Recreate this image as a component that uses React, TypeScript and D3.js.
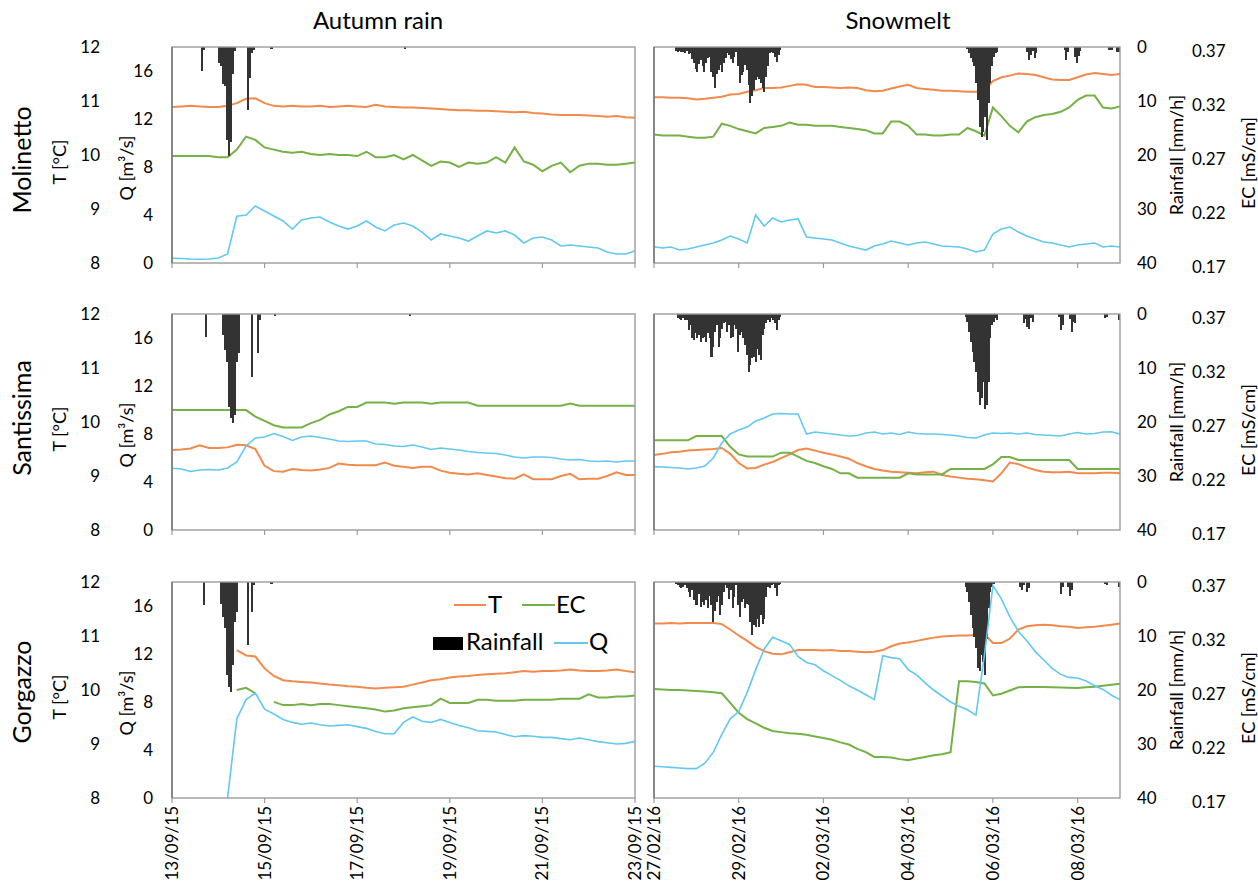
import React from "react";
import * as d3 from "d3";

// samples every 0.2 days from the start of each window
const STEP = 0.2;
const FONT = "Lato, 'Open Sans', sans-serif";

const autumnDates = ["13/09/15", "15/09/15", "17/09/15", "19/09/15", "21/09/15", "23/09/15"];
const snowDates = ["27/02/16", "29/02/16", "02/03/16", "04/03/16", "06/03/16", "08/03/16"];
const stations = ["Molinetto", "Santissima", "Gorgazzo"];

const tTicks = [8, 9, 10, 11, 12];
const qTicks = [0, 4, 8, 12, 16];
const rainTicks = [0, 10, 20, 30, 40];
const ecTicks = [0.17, 0.22, 0.27, 0.32, 0.37];

// ---- Molinetto ----
const molAutT = [10.89, 10.9, 10.91, 10.9, 10.89, 10.89, 10.91, 10.96, 11.04, 11.05, 10.96, 10.91, 10.9, 10.91, 10.9, 10.9, 10.91, 10.89, 10.9, 10.91, 10.9, 10.89, 10.93, 10.9, 10.89, 10.88, 10.88, 10.87, 10.86, 10.85, 10.84, 10.83, 10.83, 10.82, 10.82, 10.81, 10.8, 10.79, 10.8, 10.78, 10.77, 10.75, 10.74, 10.74, 10.74, 10.73, 10.72, 10.71, 10.72, 10.7, 10.69];
const molAutEC = [0.269, 0.269, 0.269, 0.269, 0.269, 0.268, 0.268, 0.275, 0.287, 0.284, 0.277, 0.275, 0.273, 0.272, 0.273, 0.271, 0.27, 0.271, 0.27, 0.27, 0.269, 0.273, 0.268, 0.268, 0.27, 0.266, 0.27, 0.265, 0.26, 0.264, 0.263, 0.259, 0.263, 0.262, 0.263, 0.268, 0.263, 0.277, 0.264, 0.261, 0.255, 0.26, 0.263, 0.254, 0.26, 0.262, 0.262, 0.261, 0.261, 0.262, 0.263];
const molAutQ = [0.39, 0.38, 0.33, 0.31, 0.33, 0.42, 0.75, 3.9, 4.0, 4.75, 4.33, 3.92, 3.5, 2.83, 3.58, 3.75, 3.83, 3.42, 3.08, 2.83, 3.08, 3.5, 3.0, 2.67, 3.17, 3.33, 3.08, 2.58, 1.92, 2.42, 2.25, 2.08, 1.83, 2.25, 2.67, 2.5, 2.67, 2.33, 1.67, 2.08, 2.17, 1.92, 1.42, 1.5, 1.42, 1.33, 1.25, 0.92, 0.75, 0.75, 1.0];
// rain bursts: [first hour, hourly mm/h]
const molAutRain = [[15, [4.4, 0.5]], [24, [3.0, 3.6, 6.8, 7.2, 17.2, 20.2, 17.5, 5.0, 0.8]], [39, [11.7, 5.8, 1.1, 0.6]], [51, [0.4]], [120, [0.4]]];

const molSnowT = [11.07, 11.07, 11.06, 11.06, 11.05, 11.03, 11.04, 11.06, 11.08, 11.12, 11.13, 11.17, 11.2, 11.24, 11.24, 11.25, 11.28, 11.31, 11.3, 11.26, 11.26, 11.25, 11.24, 11.25, 11.24, 11.2, 11.18, 11.19, 11.23, 11.27, 11.3, 11.24, 11.22, 11.21, 11.19, 11.19, 11.18, 11.17, 11.17, 11.19, 11.37, 11.44, 11.47, 11.51, 11.5, 11.48, 11.44, 11.4, 11.39, 11.39, 11.44, 11.49, 11.52, 11.5, 11.48, 11.5];
const molSnowEC = [0.289, 0.288, 0.288, 0.288, 0.287, 0.286, 0.286, 0.287, 0.299, 0.297, 0.294, 0.292, 0.29, 0.295, 0.296, 0.297, 0.3, 0.298, 0.298, 0.297, 0.297, 0.297, 0.296, 0.295, 0.294, 0.293, 0.29, 0.29, 0.301, 0.301, 0.297, 0.289, 0.289, 0.288, 0.288, 0.289, 0.289, 0.295, 0.292, 0.288, 0.314, 0.306, 0.297, 0.291, 0.301, 0.305, 0.307, 0.308, 0.31, 0.314, 0.321, 0.325, 0.325, 0.314, 0.313, 0.315];
const molSnowQ = [1.36, 1.25, 1.33, 1.08, 1.17, 1.33, 1.5, 1.67, 1.92, 2.25, 2.0, 1.67, 4.0, 3.08, 3.75, 3.42, 3.58, 3.67, 2.17, 2.08, 2.0, 1.92, 1.67, 1.42, 1.25, 1.08, 1.42, 1.58, 1.83, 1.67, 1.5, 1.67, 1.75, 1.58, 1.42, 1.38, 1.33, 1.17, 0.92, 1.08, 2.42, 2.83, 3.0, 2.58, 2.25, 2.0, 1.75, 1.67, 1.5, 1.33, 1.5, 1.58, 1.67, 1.33, 1.42, 1.33];
const molSnowRain = [
  [12, [0.8, 0.9, 0.7, 1.0, 0.9, 1.1, 0.8, 1.3, 1.2, 2.2, 3.0, 4.1, 4.6, 3.2, 2.4, 3.6, 4.6, 3.0, 2.1, 1.8, 4.6, 5.5, 7.6, 5.0, 4.3, 3.4, 4.6, 3.0, 2.0, 1.2, 1.5, 2.2, 3.0, 1.8, 1.0, 3.5, 6.7, 5.2, 4.6, 3.3, 4.3, 7.0, 10.4, 9.0, 8.0, 6.2, 5.5, 6.0, 6.7, 7.5, 8.3, 5.5, 3.6, 1.2, 1.0, 1.2, 1.8, 2.7, 1.5, 0.6]],
  [177, [0.3, 1.2, 2.1, 2.8, 3.6, 6.7, 9.8, 14.8, 16.6, 15.7, 12.9, 17.2, 10.4, 6.7, 3.6, 1.8, 1.2, 0.9]],
  [211, [1.0, 2.4, 1.5, 0.8, 2.0, 1.2]],
  [232, [0.6, 2.4, 1.0]],
  [238, [1.8, 3.0, 1.6, 0.8]],
  [257, [0.6, 0.6, 0.5]],
  [262, [1.0, 1.0]],
];

// ---- Santissima ----
const santAutT = [9.48, 9.49, 9.51, 9.57, 9.52, 9.52, 9.53, 9.58, 9.57, 9.5, 9.19, 9.09, 9.08, 9.13, 9.11, 9.1, 9.12, 9.15, 9.23, 9.21, 9.2, 9.2, 9.2, 9.25, 9.19, 9.17, 9.15, 9.17, 9.17, 9.1, 9.06, 9.04, 9.03, 9.05, 9.02, 8.99, 8.96, 8.95, 9.03, 8.94, 8.94, 8.94, 9.0, 9.04, 8.94, 8.95, 8.95, 9.0, 9.07, 9.02, 9.02];
const santAutEC = [0.281, 0.281, 0.281, 0.281, 0.281, 0.281, 0.281, 0.281, 0.281, 0.275, 0.271, 0.267, 0.265, 0.265, 0.265, 0.269, 0.272, 0.277, 0.28, 0.284, 0.284, 0.288, 0.288, 0.288, 0.287, 0.288, 0.288, 0.288, 0.287, 0.288, 0.288, 0.288, 0.288, 0.285, 0.285, 0.285, 0.285, 0.285, 0.285, 0.285, 0.285, 0.285, 0.285, 0.287, 0.285, 0.285, 0.285, 0.285, 0.285, 0.285, 0.285];
const santAutQ = [5.14, 5.08, 4.88, 5.0, 5.04, 5.0, 5.17, 5.67, 7.0, 7.67, 7.75, 8.04, 7.79, 7.46, 7.75, 7.83, 7.71, 7.58, 7.42, 7.38, 7.42, 7.42, 7.17, 7.13, 7.0, 6.96, 7.08, 6.92, 6.71, 6.83, 6.75, 6.67, 6.54, 6.46, 6.42, 6.38, 6.25, 6.08, 6.0, 6.08, 6.08, 6.04, 5.92, 5.83, 5.88, 5.75, 5.71, 5.75, 5.67, 5.75, 5.75];
const santAutRain = [[17, [4.3]], [26, [3.9, 6.7, 8.8, 17.2, 19.3, 20.2, 18.7, 8.9, 7.2]], [41, [11.6]], [44, [7.3, 1.1]], [53, [0.3]], [123, [0.4]]];

const santSnowT = [9.39, 9.41, 9.44, 9.45, 9.47, 9.48, 9.49, 9.5, 9.52, 9.41, 9.24, 9.14, 9.15, 9.21, 9.26, 9.33, 9.4, 9.48, 9.51, 9.47, 9.43, 9.4, 9.36, 9.32, 9.24, 9.18, 9.13, 9.1, 9.08, 9.07, 9.06, 9.05, 9.07, 9.08, 9.02, 8.99, 8.97, 8.95, 8.94, 8.92, 8.9, 9.05, 9.25, 9.22, 9.16, 9.11, 9.08, 9.07, 9.07, 9.08, 9.05, 9.05, 9.05, 9.06, 9.06, 9.05];
const santSnowEC = [0.253, 0.253, 0.253, 0.253, 0.253, 0.257, 0.257, 0.257, 0.257, 0.247, 0.24, 0.238, 0.238, 0.238, 0.238, 0.2416, 0.2416, 0.238, 0.234, 0.232, 0.229, 0.2265, 0.2225, 0.2225, 0.2184, 0.2184, 0.2184, 0.2184, 0.2184, 0.2184, 0.2225, 0.2215, 0.2215, 0.2215, 0.2215, 0.2265, 0.2265, 0.2265, 0.2265, 0.2265, 0.2308, 0.2376, 0.2376, 0.2348, 0.2348, 0.2348, 0.2348, 0.2348, 0.2348, 0.2348, 0.2265, 0.2265, 0.2265, 0.2265, 0.2265, 0.2265];
const santSnowQ = [5.28, 5.25, 5.21, 5.17, 5.08, 5.17, 5.33, 6.0, 7.25, 8.0, 8.33, 8.58, 9.08, 9.33, 9.67, 9.71, 9.67, 9.67, 8.0, 8.17, 8.08, 8.0, 7.92, 7.83, 7.88, 8.08, 8.17, 8.0, 8.08, 7.96, 8.17, 8.04, 8.0, 8.0, 7.96, 7.92, 7.83, 7.71, 7.67, 7.92, 8.08, 8.04, 8.08, 8.0, 8.08, 7.96, 7.92, 7.88, 7.83, 8.0, 8.13, 8.0, 8.04, 8.17, 8.19, 8.0];
const santSnowRain = [
  [13, [0.8, 0.9, 1.1, 0.8, 1.1, 1.1, 3.0, 2.0, 4.5, 4.8, 3.6, 4.5, 3.9, 5.1, 4.5, 4.2, 5.1, 3.6, 4.5, 7.9, 6.1, 3.3, 2.0, 6.1, 4.5, 2.7, 1.7, 1.4, 3.3, 2.0, 4.5, 4.2, 2.0, 2.7, 7.0, 3.9, 3.3, 4.5, 5.7, 7.6, 10.7, 9.4, 8.2, 7.9, 8.8, 6.4, 7.6, 8.5, 3.9, 2.7, 1.7, 1.1, 1.4, 0.8, 1.1, 1.7, 3.0, 1.1, 0.6]],
  [176, [0.5, 1.4, 3.3, 5.1, 7.0, 8.8, 10.7, 14.4, 16.9, 15.6, 12.5, 17.5, 16.9, 12.5, 4.5, 2.0, 1.4, 0.8, 1.1]],
  [209, [1.7, 1.0, 2.4, 2.7, 0.8, 1.4]],
  [229, [0.6, 3.0, 2.0]],
  [235, [1.0, 3.3, 1.4, 1.7]],
  [255, [0.8, 0.6]],
  [263, [1.1]],
];

// ---- Gorgazzo (null = no record) ----
const gorAutT = [null, null, null, null, null, null, null, 10.74, 10.64, 10.62, 10.4, 10.26, 10.18, 10.16, 10.15, 10.14, 10.12, 10.1, 10.09, 10.07, 10.06, 10.04, 10.03, 10.04, 10.05, 10.06, 10.1, 10.14, 10.18, 10.2, 10.23, 10.25, 10.26, 10.28, 10.29, 10.3, 10.31, 10.33, 10.35, 10.34, 10.35, 10.35, 10.36, 10.38, 10.36, 10.35, 10.35, 10.36, 10.38, 10.35, 10.33];
const gorAutEC = [null, null, null, null, null, null, null, 0.27, 0.272, 0.267, null, 0.259, 0.256, 0.256, 0.257, 0.256, 0.257, 0.257, 0.256, 0.255, 0.254, 0.253, 0.252, 0.25, 0.251, 0.253, 0.254, 0.255, 0.256, 0.262, 0.258, 0.258, 0.258, 0.261, 0.261, 0.26, 0.26, 0.26, 0.261, 0.261, 0.261, 0.261, 0.262, 0.262, 0.262, 0.266, 0.263, 0.263, 0.264, 0.264, 0.265];
const gorAutQ = [null, null, null, null, null, null, 0.0, 6.6, 8.2, 8.75, 7.4, 7.0, 6.55, 6.3, 6.15, 6.25, 6.1, 6.0, 6.05, 6.1, 5.95, 5.8, 5.55, 5.35, 5.35, 6.3, 6.75, 6.4, 6.3, 6.55, 6.3, 6.05, 5.85, 5.6, 5.55, 5.5, 5.3, 5.1, 5.2, 5.15, 5.05, 5.05, 4.95, 4.85, 5.0, 4.85, 4.7, 4.6, 4.5, 4.55, 4.72];
const gorAutRain = [[16, [4.3]], [25, [4.0, 6.5, 8.6, 17.3, 19.5, 20.4, 15.4, 7.4, 5.6]], [39, [11.7]], [41, [5.6, 0.6]], [51, [0.3]]];

const gorSnowT = [11.23, 11.23, 11.24, 11.23, 11.24, 11.24, 11.24, 11.24, 11.22, 11.12, 11.01, 10.91, 10.8, 10.72, 10.67, 10.66, 10.7, 10.74, 10.74, 10.74, 10.73, 10.74, 10.72, 10.72, 10.71, 10.7, 10.71, 10.74, 10.81, 10.86, 10.88, 10.91, 10.94, 10.97, 10.99, 11.0, 11.01, 11.01, 11.02, 11.03, 10.87, 10.87, 10.95, 11.12, 11.18, 11.2, 11.21, 11.2, 11.18, 11.17, 11.15, 11.16, 11.17, 11.19, 11.21, 11.23];
const gorSnowEC = [0.271, 0.2705, 0.27, 0.27, 0.2695, 0.269, 0.2685, 0.268, 0.267, 0.258, 0.249, 0.243, 0.239, 0.235, 0.232, 0.231, 0.23, 0.2295, 0.2285, 0.227, 0.2255, 0.224, 0.2215, 0.2195, 0.2155, 0.2125, 0.208, 0.208, 0.2075, 0.206, 0.205, 0.2065, 0.208, 0.2095, 0.2105, 0.2125, 0.278, 0.278, 0.2775, 0.276, 0.265, 0.2665, 0.2695, 0.2725, 0.2728, 0.2728, 0.2728, 0.2725, 0.2722, 0.272, 0.2719, 0.2725, 0.273, 0.274, 0.2749, 0.2758];
const gorSnowQ = [2.64, 2.6, 2.55, 2.5, 2.45, 2.45, 2.9, 3.8, 5.3, 6.6, 7.2, 8.8, 10.7, 12.4, 13.4, 13.1, 12.8, 11.8, 11.3, 11.1, 10.6, 10.2, 9.8, 9.35, 9.0, 8.6, 8.2, 11.85, 11.7, 11.6, 10.7, 10.25, 9.6, 9.0, 8.5, 8.0, 7.65, 7.35, 6.9, 11.9, 17.7, 16.6, 15.1, 13.9, 13.1, 12.2, 11.5, 10.8, 10.3, 10.05, 10.0, 9.75, 9.35, 9.05, 8.56, 8.2];
const gorSnowRain = [
  [12, [0.3, 0.6, 0.9, 1.2, 0.9, 0.6, 1.2, 1.9, 2.8, 1.5, 3.4, 4.3, 4.3, 2.2, 4.6, 3.7, 4.3, 3.4, 4.9, 2.5, 4.3, 7.4, 5.3, 3.7, 2.5, 6.2, 4.3, 1.9, 0.6, 1.2, 3.1, 1.5, 4.9, 2.8, 0.6, 4.3, 6.5, 3.7, 3.1, 4.9, 4.0, 4.3, 7.4, 9.9, 8.0, 8.3, 6.8, 8.3, 6.2, 7.7, 6.8, 2.8, 0.9, 1.2, 0.6, 0.3, 1.2, 2.5, 0.6, 0.3]],
  [176, [0.9, 1.9, 3.7, 6.2, 8.6, 10.2, 12.3, 16.0, 16.4, 13.6, 14.8, 17.3, 10.5, 4.9, 1.9, 0.9, 0.3]],
  [207, [0.9, 1.5, 0.6, 0, 1.9, 1.2]],
  [230, [2.2, 1.0]],
  [234, [0.9, 2.5, 1.5]],
  [255, [0.3, 0.6]],
  [263, [0.9]],
];

const panels = [
  [
    { T: molAutT, EC: molAutEC, Q: molAutQ, rain: molAutRain },
    { T: molSnowT, EC: molSnowEC, Q: molSnowQ, rain: molSnowRain },
  ],
  [
    { T: santAutT, EC: santAutEC, Q: santAutQ, rain: santAutRain },
    { T: santSnowT, EC: santSnowEC, Q: santSnowQ, rain: santSnowRain },
  ],
  [
    { T: gorAutT, EC: gorAutEC, Q: gorAutQ, rain: gorAutRain },
    { T: gorSnowT, EC: gorSnowEC, Q: gorSnowQ, rain: gorSnowRain },
  ],
];

// layout
const cols = [
  { title: "Autumn rain", days: 10, dates: autumnDates, x0: 172, x1: 635, titleX: 378 },
  { title: "Snowmelt", days: 11, dates: snowDates, x0: 654, x1: 1120, titleX: 898 },
];
const rows = [
  { top: 47, bottom: 263, labelY: 160 },
  { top: 314, bottom: 530, labelY: 418 },
  { top: 582, bottom: 798, labelY: 692 },
];

const C = { T: "#F28A4C", EC: "#74B146", Q: "#62C8F0", rain: "#333333", frame: "#9c9c9c" };

function Panel({ ci, ri }: { ci: number; ri: number }) {
  const col = cols[ci];
  const row = rows[ri];
  const d = panels[ri][ci];
  const x = d3.scaleLinear().domain([0, col.days]).range([col.x0, col.x1]);
  const yT = d3.scaleLinear().domain([8, 12]).range([row.bottom, row.top]);
  const yQ = d3.scaleLinear().domain([0, 18]).range([row.bottom, row.top]);
  const yEC = d3.scaleLinear().domain([0.17, 0.37]).range([row.bottom, row.top]);
  const yRain = d3.scaleLinear().domain([0, 40]).range([row.top, row.bottom]);

  const mkLine = (sc: any) =>
    d3
      .line<number | null>()
      .defined((v) => v != null)
      .x((_, i) => x(i * STEP))
      .y((v) => sc(v as number));

  const bars = (d.rain as any[]).flatMap(([start, vals]: [number, number[]]) =>
    vals.map((mm, k) => ({ h: start + k, mm }))
  );
  const barW = x(1 / 24) - x(0);
  const mid = (row.top + row.bottom) / 2;

  return (
    <g>
      <path d={mkLine(yT)(d.T as any) || ""} fill="none" stroke={C.T} strokeWidth={2} />
      <path d={mkLine(yEC)(d.EC as any) || ""} fill="none" stroke={C.EC} strokeWidth={2} />
      {/* rainfall, hanging from the top */}
      {bars.map((b, i) => (
        <rect key={i} x={x(b.h / 24)} y={row.top} width={barW + 0.25} height={yRain(b.mm) - row.top} fill={C.rain} shapeRendering="crispEdges" />
      ))}
      <path d={mkLine(yQ)(d.Q as any) || ""} fill="none" stroke={C.Q} strokeWidth={1.6} />

      <rect x={col.x0} y={row.top} width={col.x1 - col.x0} height={row.bottom - row.top} fill="none" stroke={C.frame} strokeWidth={1.4} />
      <line x1={col.x0} x2={col.x0} y1={row.top} y2={row.bottom} stroke="#777" strokeWidth={1.5} />

      {col.dates.map((lab, i) => (
        <g key={lab}>
          <line x1={x(i * 2)} x2={x(i * 2)} y1={row.bottom} y2={row.bottom + 5} stroke={C.frame} strokeWidth={1.2} />
          {ri === 2 && (
            <text transform={`translate(${x(i * 2) + 6},${row.bottom + 8}) rotate(-90)`} textAnchor="end" fontSize={17}>
              {lab}
            </text>
          )}
        </g>
      ))}

      {ci === 0 && (
        <g>
          {tTicks.map((t) => (
            <text key={"t" + t} x={100} y={yT(t)} dy="0.35em" textAnchor="end" fontSize={17}>{t}</text>
          ))}
          {qTicks.map((q) => (
            <text key={"q" + q} x={153} y={yQ(q)} dy="0.35em" textAnchor="end" fontSize={17}>{q}</text>
          ))}
          <text transform={`translate(31,${row.labelY}) rotate(-90)`} textAnchor="middle" fontSize={25}>{stations[ri]}</text>
          <text transform={`translate(66,${mid + 7}) rotate(-90)`} textAnchor="middle" fontSize={18}>T [°C]</text>
          <text transform={`translate(133,${mid + 13}) rotate(-90)`} textAnchor="middle" fontSize={18}>Q [m³/s]</text>
        </g>
      )}
      {ci === 1 && (
        <g>
          {rainTicks.map((r) => (
            <text key={"r" + r} x={1137} y={yRain(r)} dy="0.35em" fontSize={17}>{r}</text>
          ))}
          {ecTicks.map((e) => (
            <text key={"e" + e} x={1192} y={yEC(e) + 4} dy="0.35em" fontSize={17}>{e.toFixed(2)}</text>
          ))}
          <text transform={`translate(1183,${mid}) rotate(-90)`} textAnchor="middle" fontSize={18}>Rainfall [mm/h]</text>
          <text transform={`translate(1255,${mid + 8}) rotate(-90)`} textAnchor="middle" fontSize={18}>EC [mS/cm]</text>
        </g>
      )}
    </g>
  );
}

function Legend() {
  return (
    <g fontSize={24}>
      <line x1={454} x2={486} y1={605} y2={605} stroke={C.T} strokeWidth={2} />
      <text x={488} y={613}>T</text>
      <line x1={522} x2={555} y1={605} y2={605} stroke={C.EC} strokeWidth={2} />
      <text x={556} y={613}>EC</text>
      <rect x={433} y={637} width={30} height={13} fill="#000" />
      <text x={466} y={650}>Rainfall</text>
      <line x1={554} x2={588} y1={643} y2={643} stroke={C.Q} strokeWidth={2} />
      <text x={589} y={650}>Q</text>
    </g>
  );
}

export default function App() {
  return (
    <svg
      width={1258}
      height={883}
      style={{ position: "absolute", left: 0, top: 0, background: "#fff" }}
      fontFamily={FONT}
      fill="#000"
    >
      <rect width={1258} height={883} fill="#fff" />
      {cols.map((c) => (
        <text key={c.title} x={c.titleX} y={29} textAnchor="middle" fontSize={24}>{c.title}</text>
      ))}
      {rows.map((_, ri) => cols.map((_, ci) => <Panel key={ri + "-" + ci} ci={ci} ri={ri} />))}
      <Legend />
    </svg>
  );
}
